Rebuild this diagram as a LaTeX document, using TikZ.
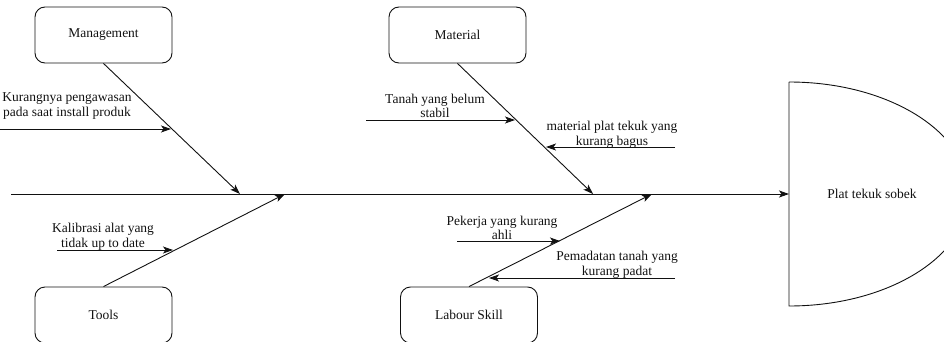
\documentclass[tikz,border=0pt]{standalone}
\usepackage{fontspec}
\setmainfont{Liberation Serif}
\usetikzlibrary{arrows.meta}

\definecolor{ink}{HTML}{111111}

\tikzset{
  catbox/.style={draw=ink, line width=0.9pt, rounded corners=10pt,
    minimum width=137pt, minimum height=56pt, font=\fontsize{13.5}{15}\selectfont, text=ink},
  cause/.style={align=center, font=\fontsize{13.5}{14.5}\selectfont, text=ink, inner sep=0pt},
  bone/.style={draw=ink, line width=0.9pt},
  arr/.style={bone, -{Stealth[length=10pt, width=7pt, inset=2.5pt]}},
}

\begin{document}
\begin{tikzpicture}[x=1pt, y=-1pt]
  \useasboundingbox (0,0) rectangle (944,342);

  % category boxes
  \node[catbox] (mgmt)   at (103.5,35)  {Management};
  \node[catbox] (mat)    at (457.5,35)  {Material};
  \node[catbox] (tools)  at (103.5,315) {Tools};
  \node[catbox] (labour) at (469,315)   {Labour Skill};

  % effect head (half-ellipse)
  \coordinate (head) at (789,194);
  \node[font=\fontsize{13.5}{15}\selectfont, text=ink] (effect) at (872,194) {Plat tekuk sobek};
  \draw[bone] (789,82) -- (789,306)
    arc[start angle=-90, end angle=90, x radius=180pt, y radius=112pt];

  % spine
  \coordinate (tail) at (11,194);
  \draw[arr] (tail) -- (head);

  % points where the ribs meet the spine
  \coordinate (sM)  at (240,194);
  \coordinate (sT)  at (285,194);
  \coordinate (sMa) at (593,194);
  \coordinate (sL)  at (652,194);

  % ribs
  \draw[arr] (mgmt.south)  -- (sM);
  \draw[arr] (tools.north) -- (sT);
  \draw[arr] (mat.south)   -- (sMa);
  \draw[arr] (labour.north) -- (sL);

  % sub-causes: Management
  \coordinate (k0) at (0,129);   \coordinate (k1) at (171,129);
  \draw[arr] (k0) -- (k1);
  \node[cause] (kur) at (67,106) {Kurangnya pengawasan\\pada saat install produk};

  % sub-causes: Tools
  \coordinate (c0) at (57,250);  \coordinate (c1) at (173,250);
  \draw[arr] (c0) -- (c1);
  \node[cause] (kal) at (103,237) {Kalibrasi alat yang\\tidak up to date};

  % sub-causes: Material
  \coordinate (t0) at (366,120); \coordinate (t1) at (515,120);
  \draw[arr] (t0) -- (t1);
  \node[cause] (tan) at (435,106) {Tanah yang belum\\stabil};

  \coordinate (p0) at (675,147); \coordinate (p1) at (546,147);
  \draw[arr] (p0) -- (p1);
  \node[cause] (mpt) at (612,135) {material plat tekuk yang\\kurang bagus};

  % sub-causes: Labour Skill
  \coordinate (w0) at (457,241); \coordinate (w1) at (560,241);
  \draw[arr] (w0) -- (w1);
  \node[cause] (pek) at (502,228) {Pekerja yang kurang\\ahli};

  \coordinate (d0) at (675,278); \coordinate (d1) at (489,278);
  \draw[arr] (d0) -- (d1);
  \node[cause] (pem) at (617,265) {Pemadatan tanah yang\\kurang padat};
\end{tikzpicture}
\end{document}
